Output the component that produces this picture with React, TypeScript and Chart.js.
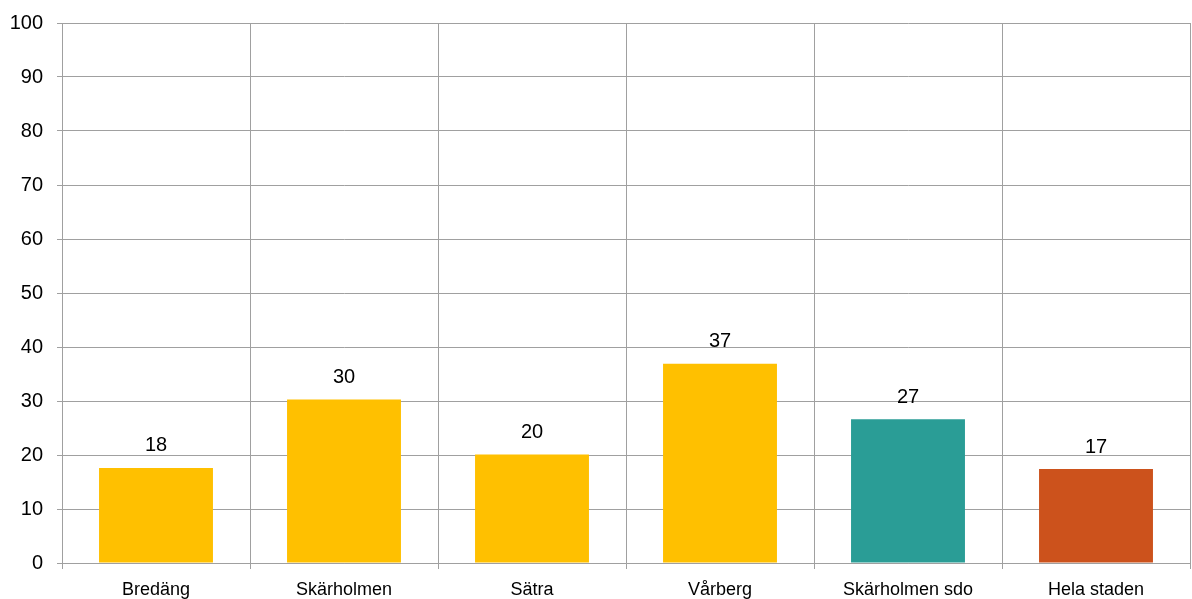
import React, { useEffect, useRef } from "react";
import { Chart, registerables } from "chart.js";

Chart.register(...registerables);

const categories = ["Bredäng", "Skärholmen", "Sätra", "Vårberg", "Skärholmen sdo", "Hela staden"];
const values = [17.6, 30.3, 20.1, 36.9, 26.6, 17.4];
const barColors = ["#FFC000", "#FFC000", "#FFC000", "#FFC000", "#2A9D96", "#CC521C"];
const yTicks = [0, 10, 20, 30, 40, 50, 60, 70, 80, 90, 100];

const FONT = "'Liberation Sans', Arial, sans-serif";

const valueLabels = {
  id: "valueLabels",
  afterDatasetsDraw(chart: any) {
    const ctx = chart.ctx;
    const meta = chart.getDatasetMeta(0);
    ctx.save();
    ctx.font = `20px ${FONT}`;
    ctx.fillStyle = "#000";
    ctx.textAlign = "center";
    ctx.textBaseline = "middle";
    meta.data.forEach((bar: any, i: number) => {
      const v = chart.data.datasets[0].data[i] as number;
      ctx.fillText(String(Math.round(v)), bar.x, bar.y - 22);
    });
    ctx.restore();
  },
};

export default function App() {
  const ref = useRef<HTMLCanvasElement | null>(null);
  useEffect(() => {
    document.body.style.margin = "0";
    if (!ref.current) return;
    const chart = new Chart(ref.current, {
      type: "bar",
      data: {
        labels: categories,
        datasets: [
          {
            data: values,
            backgroundColor: barColors,
            borderWidth: 0,
            categoryPercentage: 1,
            barPercentage: 0.606,
          },
        ],
      },
      options: {
        animation: false,
        responsive: false,
        maintainAspectRatio: false,
        layout: { padding: { top: 23, right: 2, left: 0, bottom: 0 } },
        plugins: { legend: { display: false }, tooltip: { enabled: false } },
        scales: {
          x: {
            offset: true,
            grid: {
              offset: true,
              color: "#A0A0A0",
              lineWidth: 1,
              drawTicks: true,
              tickLength: 6,
            },
            border: { color: "#A0A0A0", width: 1 },
            ticks: {
              color: "#000",
              font: { family: FONT, size: 18 },
              padding: 10,
              maxRotation: 0,
              autoSkip: false,
            },
            afterFit(scale: any) {
              scale.height = 36;
              scale.paddingLeft = 0;
              scale.paddingRight = 0;
            },
          },
          y: {
            min: 0,
            max: 100,
            afterBuildTicks(scale: any) {
              scale.ticks = yTicks.map((v) => ({ value: v }));
            },
            grid: {
              color: "#A0A0A0",
              lineWidth: 1,
              drawTicks: true,
              tickLength: 5,
            },
            border: { color: "#A0A0A0", width: 1 },
            ticks: {
              color: "#000",
              font: { family: FONT, size: 20 },
              padding: 14,
            },
            afterFit(scale: any) {
              scale.width = 62;
              scale.paddingTop = 0;
              scale.paddingBottom = 0;
            },
          },
        },
      },
      plugins: [valueLabels],
    });
    return () => chart.destroy();
  }, []);
  return (
    <div style={{ width: 1192, height: 599, position: "relative" }}>
      <canvas ref={ref} width={1192} height={599} style={{ display: "block" }} />
    </div>
  );
}
